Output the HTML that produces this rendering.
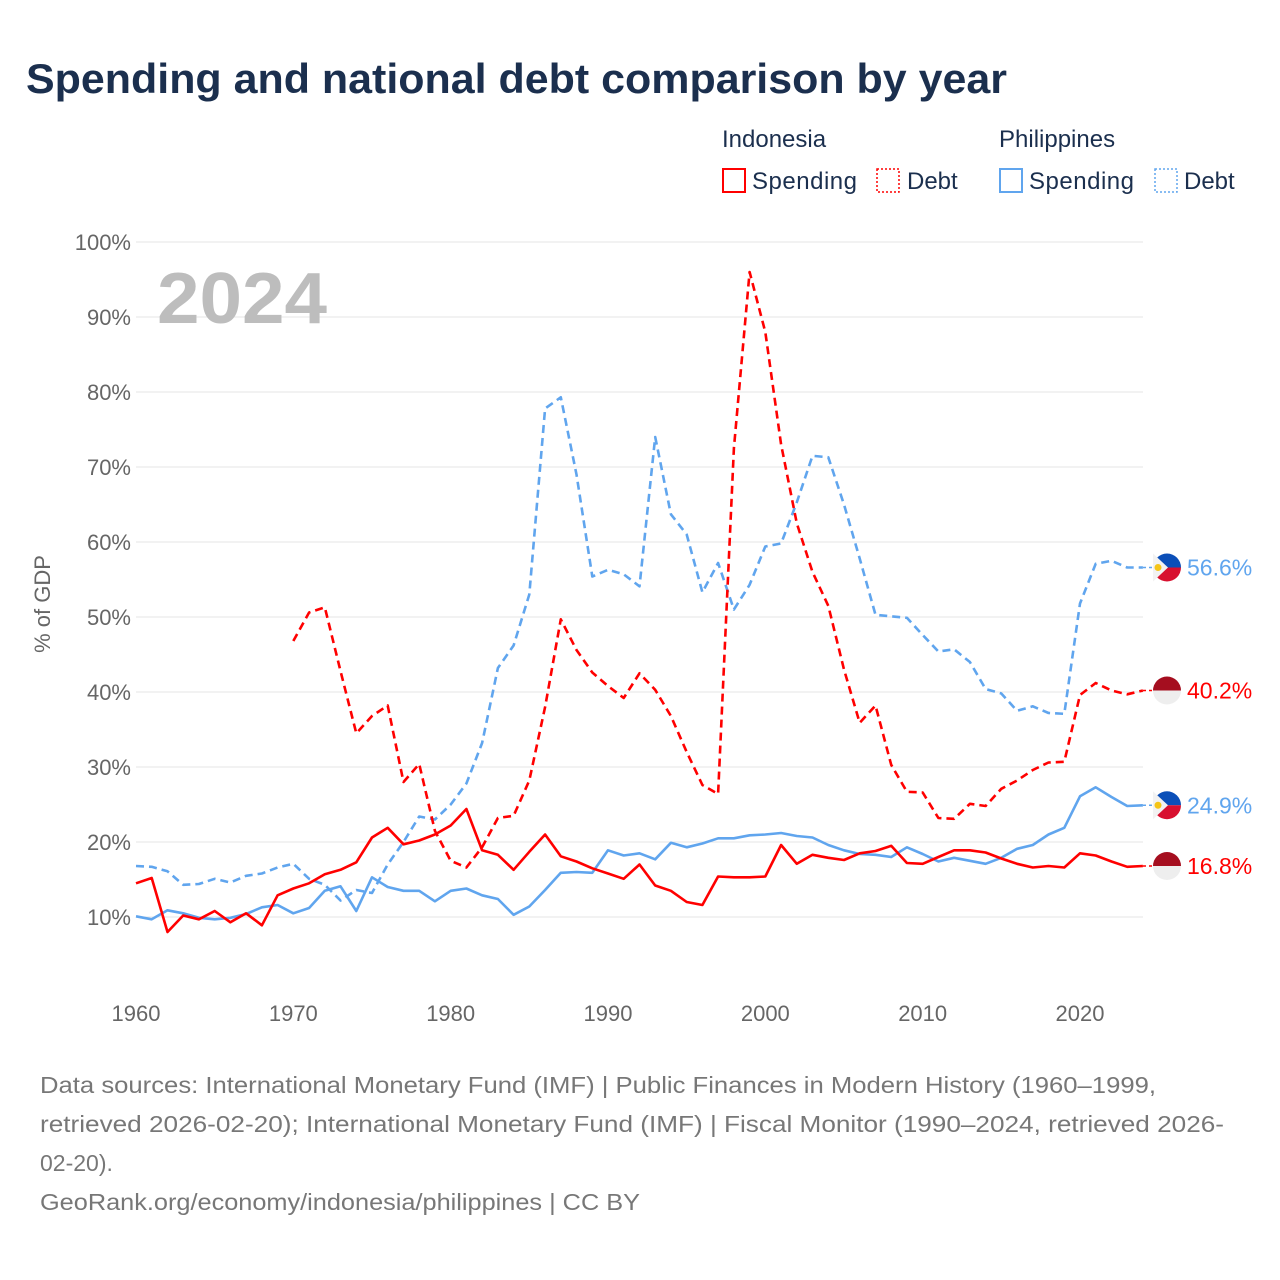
<!DOCTYPE html>
<html><head><meta charset="utf-8"><style>
html,body{margin:0;padding:0;background:#fff;}
svg{display:block;font-family:"Liberation Sans",sans-serif;}
</style></head><body>
<svg id="chart" width="1280" height="1280" viewBox="0 0 1280 1280">
<text x="26" y="93" font-size="42" font-weight="bold" fill="#1b2f4e" textLength="981" lengthAdjust="spacingAndGlyphs">Spending and national debt comparison by year</text>
<g font-size="24" fill="#1b2f4e">
<text x="722" y="147">Indonesia</text>
<text x="999" y="147">Philippines</text>
<g><rect x="723" y="169" width="22" height="23" fill="none" stroke="#ff0000" stroke-width="2"/><text x="752" y="189" textLength="105">Spending</text></g>
<g><rect x="877" y="169" width="22" height="23" fill="none" stroke="#ff0000" stroke-width="1.5" stroke-dasharray="2,2"/><text x="907" y="189">Debt</text></g>
<g><rect x="1000" y="169" width="22" height="23" fill="none" stroke="#60a5ee" stroke-width="2"/><text x="1029" y="189" textLength="105">Spending</text></g>
<g><rect x="1155" y="169" width="22" height="23" fill="none" stroke="#60a5ee" stroke-width="1.5" stroke-dasharray="2,2"/><text x="1184" y="189">Debt</text></g>
</g>
<g id="grid"></g>
<g id="yticks" font-size="22" fill="#666"></g>
<g id="xticks" font-size="22" fill="#666"></g>
<text x="50" y="604" font-size="22" fill="#666" transform="rotate(-90 50 604)" text-anchor="middle">% of GDP</text>
<text x="157" y="323" font-size="72" font-weight="bold" fill="#bdbdbd" textLength="170" lengthAdjust="spacingAndGlyphs">2024</text>
<g id="series"></g>
<g id="endlabels"></g>
<g font-size="23" fill="#777">
<text x="40" y="1093" textLength="1116" lengthAdjust="spacingAndGlyphs">Data sources: International Monetary Fund (IMF) | Public Finances in Modern History (1960–1999,</text>
<text x="40" y="1132" textLength="1184" lengthAdjust="spacingAndGlyphs">retrieved 2026-02-20); International Monetary Fund (IMF) | Fiscal Monitor (1990–2024, retrieved 2026-</text>
<text x="40" y="1171">02-20).</text>
<text x="40" y="1210" textLength="600" lengthAdjust="spacingAndGlyphs">GeoRank.org/economy/indonesia/philippines | CC BY</text>
</g>
</svg>
<script>
const yTickValues=[10,20,30,40,50,60,70,80,90,100];
const xTickValues=[1960,1970,1980,1990,2000,2010,2020];
const idnSpendStart=1960;
const idnSpending=[14.5,15.2,8,10.2,9.7,10.8,9.3,10.5,8.9,12.9,13.8,14.5,15.7,16.3,17.3,20.6,21.9,19.7,20.2,21,22.2,24.4,18.9,18.3,16.3,18.7,21,18.1,17.4,16.5,15.8,15.1,17,14.2,13.5,12,11.6,15.4,15.3,15.3,15.4,19.6,17.1,18.3,17.9,17.6,18.5,18.8,19.5,17.2,17.1,18,18.9,18.9,18.6,17.8,17.1,16.6,16.8,16.6,18.5,18.2,17.4,16.7,16.8];
const idnDebtStart=1970;
const idnDebt=[46.8,50.6,51.3,42.8,34.5,36.8,38.2,28,30.4,21.5,17.5,16.6,19.3,23.2,23.5,28.2,38,49.7,45.6,42.6,40.8,39.2,42.5,40.3,36.8,32,27.6,26.4,72.5,96,88,73,62.5,56,51.5,43,35.9,38.2,30.3,26.7,26.6,23.2,23.1,25.1,24.8,27.1,28.2,29.6,30.6,30.7,39.6,41.2,40.2,39.7,40.2];
const phlSpendStart=1960;
const phlSpending=[10.1,9.7,10.9,10.5,9.9,9.7,9.9,10.4,11.3,11.6,10.5,11.2,13.5,14.1,10.8,15.3,14,13.5,13.5,12.1,13.5,13.8,12.9,12.4,10.3,11.4,13.6,15.9,16,15.9,18.9,18.2,18.5,17.7,19.9,19.3,19.8,20.5,20.5,20.9,21,21.2,20.8,20.6,19.6,18.9,18.4,18.3,18,19.3,18.4,17.4,17.9,17.5,17.1,17.9,19.1,19.6,21,21.9,26.1,27.3,26,24.8,24.9];
const phlDebtStart=1960;
const phlDebt=[16.8,16.7,16.1,14.3,14.4,15.1,14.6,15.5,15.8,16.6,17.1,15.1,14.3,12.2,13.6,13.2,17,20,23.4,23,25,27.8,33.2,43.2,46.2,53,77.8,79.3,69,55.4,56.3,55.7,54.1,74,63.7,61,53.3,57.2,51,54.3,59.4,59.8,65.3,71.5,71.3,65,57.8,50.3,50.1,49.9,47.6,45.4,45.7,44,40.4,39.8,37.5,38.1,37.2,37.1,51.8,57.1,57.5,56.6,56.6];

const NS="http://www.w3.org/2000/svg";
function xs(yr){return 136+(yr-1960)*(944/60);}
function ys(v){return 992-v*7.5;}
function mk(tag,attrs,parent){const e=document.createElementNS(NS,tag);for(const k in attrs)e.setAttribute(k,attrs[k]);parent.appendChild(e);return e;}
const grid=document.getElementById('grid'),yt=document.getElementById('yticks'),xt=document.getElementById('xticks');
yTickValues.forEach(v=>{
  const l=mk('line',{x1:136,x2:1143,y1:ys(v),y2:ys(v),stroke:'#e6e6e6','stroke-width':1},grid);
  
  
  const t=mk('text',{x:131,y:ys(v)+8,'text-anchor':'end'},yt);
  t.textContent=v+'%';
  
  
});
xTickValues.forEach(y=>{
  const t=mk('text',{x:xs(y),y:1021,'text-anchor':'middle'},xt);
  t.textContent=y;
  
  
});
const series=document.getElementById('series');
function draw(vals,start,color,dash,name){
  const pts=vals.map((v,i)=>xs(start+i).toFixed(1)+','+ys(v).toFixed(1)).join(' ');
  const p=mk('polyline',{points:pts,fill:'none',stroke:color,'stroke-width':2.6,'stroke-linejoin':'round'},series);
  if(dash)p.setAttribute('stroke-dasharray','8,5');
  
  
}
draw(phlDebt,phlDebtStart,'#60a5ee',true,'philippines-debt-line');
draw(idnDebt,idnDebtStart,'#ff0000',true,'indonesia-debt-line');
draw(phlSpending,phlSpendStart,'#60a5ee',false,'philippines-spending-line');
draw(idnSpending,idnSpendStart,'#ff0000',false,'indonesia-spending-line');

const el=document.getElementById('endlabels');
function endLabel(vals,color,flag,name){
  const v=vals[vals.length-1],y=ys(v),cx=1167;
  mk('line',{x1:1143,x2:cx,y1:y,y2:y,stroke:color,'stroke-width':1.5,'stroke-dasharray':'3,3'},el);
  const g=mk('g',{},el);
  
  
  if(flag==='idn'){
    mk('path',{d:`M${cx-14},${y} A14,14 0 0 1 ${cx+14},${y} Z`,fill:'#a50e1f'},g);
    mk('path',{d:`M${cx-14},${y} A14,14 0 0 0 ${cx+14},${y} Z`,fill:'#eeeeee'},g);
  }else{
    mk('path',{d:`M${cx-14},${y} A14,14 0 0 1 ${cx+14},${y} Z`,fill:'#0b4fb8'},g);
    mk('path',{d:`M${cx-14},${y} A14,14 0 0 0 ${cx+14},${y} Z`,fill:'#d8102f'},g);
    mk('path',{d:`M${cx-14},${y-14} L${cx+1},${y} L${cx-14},${y+14} Z`,fill:'#f2f2f2'},g);
    mk('circle',{cx:cx-9,cy:y,r:3.5,fill:'#f5c518'},g);
  }
  const t=mk('text',{x:1187,y:y+8,fill:color,'font-size':23},el);
  t.textContent=v.toFixed(1)+'%';
  
  
}
endLabel(phlDebt,'#60a5ee','phl','philippines-debt');
endLabel(idnDebt,'#ff0000','idn','indonesia-debt');
endLabel(phlSpending,'#60a5ee','phl','philippines-spending');
endLabel(idnSpending,'#ff0000','idn','indonesia-spending');
</script>
</body></html>
